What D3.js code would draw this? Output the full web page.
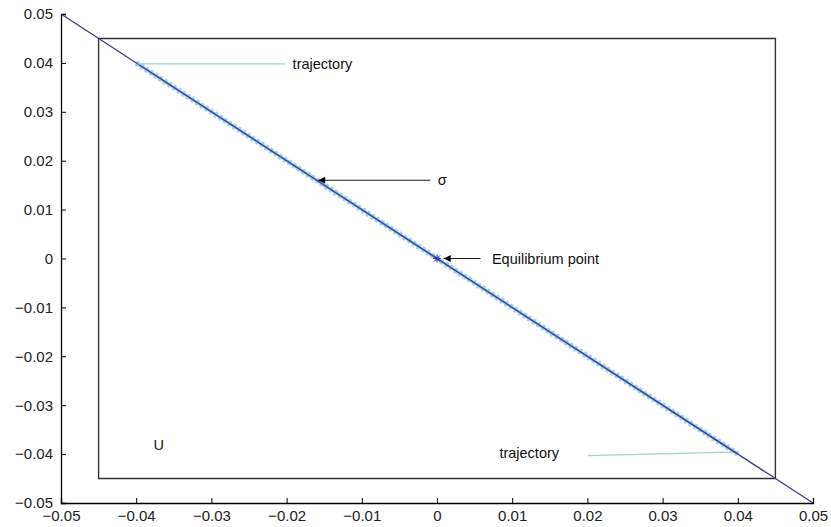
<!DOCTYPE html>
<html>
<head>
<meta charset="utf-8">
<script src="https://cdn.jsdelivr.net/npm/d3@7"></script>
<style>
body { margin: 0; background: #fff; }
text { font-family: "Liberation Sans", Arial, Helvetica, sans-serif; }
</style>
</head>
<body>
<div id="chart"></div>
<script>
//Chart data
var xTicks = [-0.05, -0.04, -0.03, -0.02, -0.01, 0, 0.01, 0.02, 0.03, 0.04, 0.05];
var yTicks = [-0.05, -0.04, -0.03, -0.02, -0.01, 0, 0.01, 0.02, 0.03, 0.04, 0.05];
var sigmaLine = [[-0.05, 0.05], [0.05, -0.05]];
var trajectory = [[-0.04, 0.04], [0.04, -0.04]];
var regionU = [[-0.045, 0.045], [0.045, 0.045], [0.045, -0.045], [-0.045, -0.045], [-0.045, 0.045]];
var equilibrium = [0, 0];
var trajTop = [[-0.0398, 0.0398], [-0.0202, 0.0398]];
var trajBottom = [[0.0201, -0.0403], [0.0392, -0.0396]];
var sigmaArrow = [[-0.0009, 0.016], [-0.0158, 0.016]];
var eqArrow = [[0.0058, 0], [0.0009, 0]];
var labels = [
    {text: "trajectory", x: -0.0192, y: 0.0398},
    {text: "trajectory", x: 0.0083, y: -0.0397},
    {text: "\u03c3", x: 0.0001, y: 0.016},
    {text: "Equilibrium point", x: 0.0073, y: 0},
    {text: "U", x: -0.0377, y: -0.0382}
];

var width = 831, height = 527;
var margin = {top: 14, right: 18, bottom: 24, left: 61};

var svg = d3.select("#chart").append("svg")
    .attr("width", width)
    .attr("height", height);

var x = d3.scaleLinear().domain([-0.05, 0.05]).range([margin.left, width - margin.right]);
var y = d3.scaleLinear().domain([-0.05, 0.05]).range([height - margin.bottom, margin.top]);

var fmt = function(d) { return d === 0 ? "0" : d3.format(".2f")(d).replace("-", "\u2212"); };

//Axes with inward ticks
var xAxis = svg.append("g")
    .attr("transform", "translate(0," + y(-0.05) + ")")
    .call(d3.axisBottom(x).tickValues(xTicks).tickSize(-5).tickPadding(10).tickFormat(fmt));
var yAxis = svg.append("g")
    .attr("transform", "translate(" + x(-0.05) + ",0)")
    .call(d3.axisLeft(y).tickValues(yTicks).tickSize(-5).tickPadding(8).tickFormat(fmt));
[xAxis, yAxis].forEach(function(a) {
    a.select(".domain").attr("stroke", "#000").attr("stroke-width", 1.3);
    a.selectAll(".tick line").attr("stroke", "#000");
    a.selectAll("text").style("font-size", "15px").attr("fill", "#222")
        .style("font-family", "'Liberation Sans', Arial, sans-serif");
});
xAxis.selectAll("text").attr("dy", "0.5em");

var line = d3.line().x(function(d) { return x(d[0]); }).y(function(d) { return y(d[1]); });

//Region U box
svg.append("path").attr("d", line(regionU))
    .attr("fill", "none").attr("stroke", "#333").attr("stroke-width", 1.4);

//Trajectory markers
svg.append("path").attr("d", line(trajectory))
    .attr("fill", "none").attr("stroke", "#a6d4f2").attr("stroke-width", 6)
    .attr("stroke-dasharray", "3,2.5");
svg.append("path").attr("d", line(trajectory))
    .attr("fill", "none").attr("stroke", "#8cc6ec").attr("stroke-width", 3);

//Sliding surface sigma
svg.append("path").attr("d", line(sigmaLine))
    .attr("fill", "none").attr("stroke", "#3c3c8c").attr("stroke-width", 1.3);

//Trajectory pointer lines
[trajTop, trajBottom].forEach(function(t) {
    svg.append("path").attr("d", line(t))
        .attr("fill", "none").attr("stroke", "#9fd3d3").attr("stroke-width", 1.2);
});

//Arrows
svg.append("defs").append("marker")
    .attr("id", "head").attr("viewBox", "0 0 10 10")
    .attr("refX", 10).attr("refY", 5)
    .attr("markerWidth", 10).attr("markerHeight", 7)
    .attr("markerUnits", "userSpaceOnUse")
    .attr("orient", "auto")
    .append("path").attr("d", "M0,0L10,5L0,10Z").attr("fill", "#000");

[sigmaArrow, eqArrow].forEach(function(a) {
    svg.append("path").attr("d", line(a))
        .attr("stroke", "#222").attr("stroke-width", 1.2)
        .attr("marker-end", "url(#head)");
});

//Equilibrium star
var ex = x(equilibrium[0]), ey = y(equilibrium[1]);
svg.append("path")
    .attr("d", "M" + (ex - 4) + "," + ey + "h8M" + ex + "," + (ey - 4) + "v8" +
        "M" + (ex - 3) + "," + (ey - 3) + "l6,6M" + (ex - 3) + "," + (ey + 3) + "l6,-6")
    .attr("stroke", "#3030c0").attr("stroke-width", 1);

//Text labels
svg.selectAll(".label")
    .data(labels)
    .enter()
    .append("text")
    .attr("class", "label")
    .attr("x", function(d) { return x(d.x); })
    .attr("y", function(d) { return y(d.y); })
    .attr("dy", "0.35em")
    .style("font-size", "14.5px")
    .attr("fill", "#111")
    .text(function(d) { return d.text; });
</script>
</body>
</html>
